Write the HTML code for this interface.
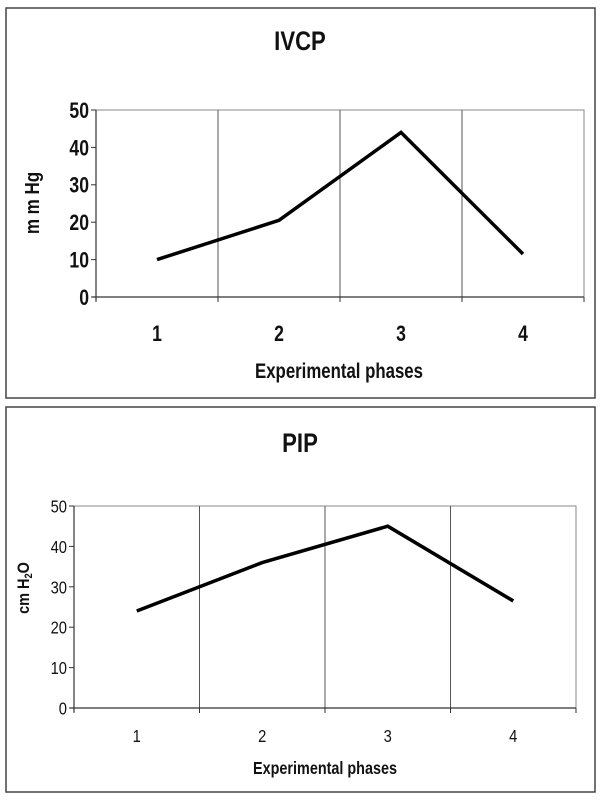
<!DOCTYPE html>
<html><head><meta charset="utf-8"><style>
html,body{margin:0;padding:0;background:#fff;}
svg{display:block;}
text{font-family:"Liberation Sans",sans-serif;fill:#111;}
</style></head><body>
<svg width="600" height="800" viewBox="0 0 600 800">
<rect x="6" y="8" width="589" height="390" fill="#fff" stroke="#444" stroke-width="1.5"/>
<rect x="6" y="407" width="589" height="385" fill="#fff" stroke="#444" stroke-width="1.5"/>
<g id="c1"></g>
<g id="c2"></g>
</svg>
<script>
const categories = ["1","2","3","4"];
const ivcpValues = [10, 20.5, 44, 11.5];
const pipValues = [24, 36, 45, 26.5];
const yTicks = [0,10,20,30,40,50];
const NS="http://www.w3.org/2000/svg";
function mk(p,t,a){const e=document.createElementNS(NS,t);for(const k in a)e.setAttribute(k,a[k]);p.appendChild(e);return e;}
function txt(g,x,y,s,anchor,fs,bold,sx,rot){
  const t=mk(g,'text',{x:0,y:0,'text-anchor':anchor,'font-size':fs,'font-weight':bold?'bold':'normal',
    transform:`translate(${x},${y})${rot?' rotate(-90)':''} scale(${sx},1)`});
  t.innerHTML=s;return t;}
function draw(g,cfg,vals){
  const L=cfg.l,R=cfg.r,T=cfg.t,B=cfg.b;
  const n=categories.length,bw=(R-L)/n;
  const xs=i=>L+bw*(i+0.5);
  const ys=v=>B-(v/50)*(B-T);
  const pa=mk(g,'rect',{x:L,y:T,width:R-L,height:B-T,fill:'#fff',stroke:'#888','stroke-width':1});
  
  
  for(let i=1;i<n;i++){const gl=mk(g,'line',{x1:L+bw*i,x2:L+bw*i,y1:T,y2:B,stroke:'#555','stroke-width':1});
    
    }
  mk(g,'line',{x1:L,x2:L,y1:T,y2:B+4,stroke:'#333','stroke-width':1.2});
  mk(g,'line',{x1:L-4,x2:R,y1:B,y2:B,stroke:'#333','stroke-width':1.2});
  for(let i=0;i<=n;i++)mk(g,'line',{x1:L+bw*i,x2:L+bw*i,y1:B,y2:B+5,stroke:'#333','stroke-width':1});
  yTicks.forEach(v=>{mk(g,'line',{x1:L-5,x2:L,y1:ys(v),y2:ys(v),stroke:'#333','stroke-width':1});
    const t=txt(g,L-7,ys(v)+cfg.yfs*0.36,String(v),'end',cfg.yfs,cfg.bold,cfg.sx,false);
    
    });
  categories.forEach((c,i)=>{const t=txt(g,xs(i),cfg.xly,c,'middle',cfg.yfs,cfg.bold,cfg.sx,false);
    
    });
  const pts=vals.map((v,i)=>xs(i)+','+ys(v)).join(' ');
  const pl=mk(g,'polyline',{points:pts,fill:'none',stroke:'#000','stroke-width':3.5,'stroke-linejoin':'miter'});
  
  
  const ti=txt(g,300,cfg.ty,cfg.title,'middle',27,true,0.82,false);
  
  
  const xt=txt(g,cfg.xtx,cfg.xty,'Experimental phases','middle',cfg.xtfs,true,cfg.xsx,false);
  
  
  const yt=txt(g,cfg.ytx,cfg.yty,cfg.ytitle,'middle',cfg.ytfs,true,0.85,true);
  
  
}
draw(document.getElementById('c1'),{l:96,r:584,t:110,b:297,yfs:22,bold:true,sx:0.8,xly:341,ty:50,title:'IVCP',xtx:339,xty:378,xtfs:21,xsx:0.8,ytfs:20,ytx:39,yty:203,ytitle:'m m Hg'},ivcpValues);
draw(document.getElementById('c2'),{l:74,r:576,t:506,b:708,yfs:18,bold:false,sx:0.82,xly:742,ty:452,title:'PIP',xtx:325,xty:774,xtfs:18,xsx:0.8,ytfs:17,ytx:29,yty:588,ytitle:'cm  H<tspan font-size="11" dy="3">2</tspan><tspan dy="-3">O</tspan>'},pipValues);
</script>
</body></html>
